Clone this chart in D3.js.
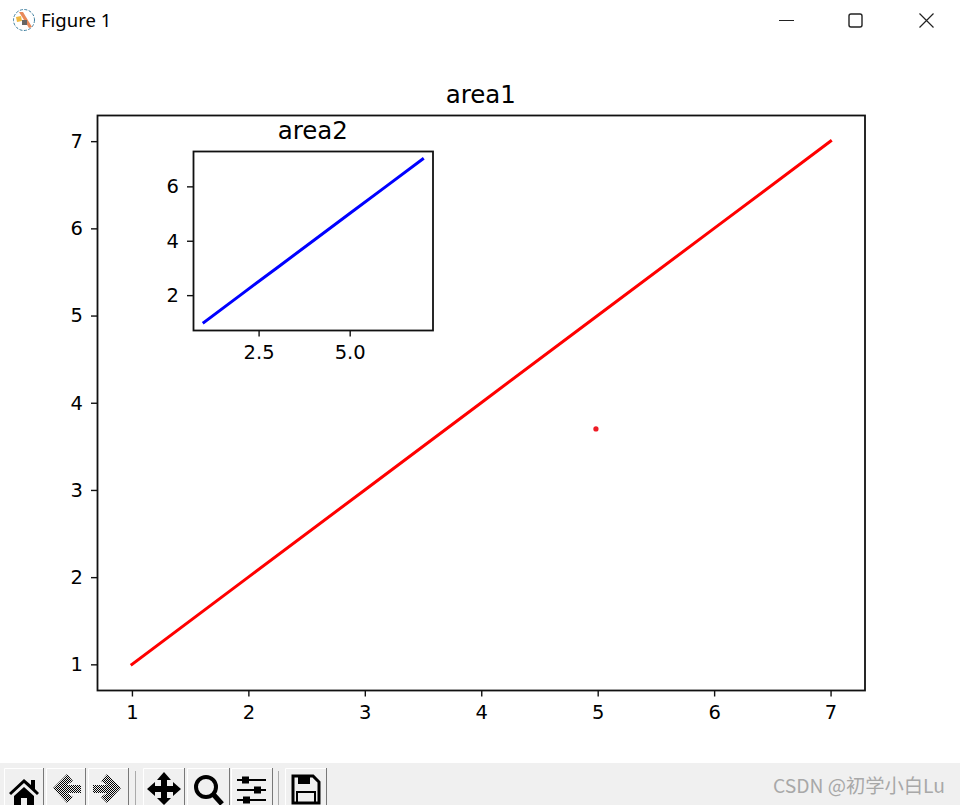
<!DOCTYPE html>
<html><head><meta charset="utf-8">
<script src="https://cdnjs.cloudflare.com/ajax/libs/d3/7.8.5/d3.min.js"></script>
<style>
html,body{margin:0;padding:0;background:#fff;overflow:hidden}
svg{display:block}
text{font-family:"DejaVu Sans",sans-serif;fill:#000}
</style></head><body>
<script>
const lineX = [1,2,3,4,5,6,7];
const lineY = [1,2,3,4,5,6,7];
const dotX = [4.985];
const dotY = [3.70];
const mainTicksX = [1,2,3,4,5,6,7];
const mainTicksY = [1,2,3,4,5,6,7];
const insetTicksX = [2.5,5.0];
const insetTicksY = [2,4,6];
const titleMain = "area1";
const titleInset = "area2";
const windowTitle = "Figure 1";
const watermark = "CSDN @初学小白Lu";

const W=960,H=805;
const svg=d3.select("body").append("svg").attr("width",W).attr("height",H);

function panel(box,dom,tx,ty,fmt,title,color,lw,titleY,fs){
  const x=d3.scaleLinear().domain(dom).range([box.l,box.r]);
  const y=d3.scaleLinear().domain(dom).range([box.b,box.t]);
  const g=svg.append("g");
  g.append("rect").attr("x",box.l).attr("y",box.t).attr("width",box.r-box.l).attr("height",box.b-box.t).attr("fill","#fff");
  const line=d3.line().x(d=>x(d[0])).y(d=>y(d[1]));
  g.append("path").datum(d3.zip(lineX,lineY)).attr("d",line).attr("fill","none").attr("stroke",color).attr("stroke-width",lw).attr("stroke-linecap","square");
  const ax=g.append("g").attr("transform",`translate(0,${box.b})`).call(d3.axisBottom(x).tickValues(tx).tickFormat(fmt).tickSize(6).tickPadding(9));
  const ay=g.append("g").attr("transform",`translate(${box.l},0)`).call(d3.axisLeft(y).tickValues(ty).tickFormat(d3.format("d")).tickSize(6).tickPadding(8));
  [ax,ay].forEach(a=>{
    a.select(".domain").remove();
    a.selectAll("line").attr("stroke","#111").attr("stroke-width",1.4);
    a.selectAll("text").attr("font-size",fs).attr("font-family",'"DejaVu Sans",sans-serif').attr("fill","#000");
  });
  g.append("rect").attr("x",box.l+.5).attr("y",box.t+.5).attr("width",box.r-box.l-1).attr("height",box.b-box.t-.5).attr("fill","none").attr("stroke","#111").attr("stroke-width",1.8);
  g.append("text").attr("x",(box.l+box.r)/2-.5).attr("y",titleY).attr("text-anchor","middle").attr("font-size",24.5).text(title);
  return {x,y,g};
}
const dom=[0.7,7.3];
const m=panel({l:97,r:865.5,t:115,b:690.5},dom,mainTicksX,mainTicksY,d3.format("d"),titleMain,"#ff0000",3,103,19.5);
m.g.selectAll("circle").data(d3.zip(dotX,dotY)).join("circle").attr("cx",d=>m.x(d[0])).attr("cy",d=>m.y(d[1])).attr("r",2.6).attr("fill","#ee1c25");
panel({l:193,r:433.5,t:151,b:330.5},dom,insetTicksX,insetTicksY,d3.format(".1f"),titleInset,"#0000ff",3,139,19.5);

// window chrome
svg.append("text").attr("x",41).attr("y",27).attr("font-size",18.5).style("font-family",'"Noto Sans",sans-serif').text(windowTitle);
const ic=svg.append("g").attr("transform","translate(24,20)");
ic.append("circle").attr("r",10.5).attr("fill","#fff").attr("stroke","#3f7f9f").attr("stroke-width",1).attr("stroke-dasharray","3 1.5");
ic.append("path").attr("d","M-5,-8L-1,-8L8,7L5,8Z").attr("fill","#e8895a");
ic.append("path").attr("d","M-8,-3L-3,-4L-2,1L-7,2Z").attr("fill","#f0b840");
ic.append("path").attr("d","M-2,0L3,0L3,5L-2,5Z").attr("fill","#666");
svg.append("path").attr("d","M779,20.5H794").attr("stroke","#222").attr("stroke-width",1).attr("fill","none");
svg.append("rect").attr("x",849).attr("y",14).attr("width",13).attr("height",13).attr("rx",2).attr("fill","none").attr("stroke","#222").attr("stroke-width",1.4);
svg.append("path").attr("d","M919.5,13.5L933.5,27.5M933.5,13.5L919.5,27.5").attr("stroke","#222").attr("stroke-width",1.2).attr("fill","none");

// toolbar
const tb=svg.append("g");
tb.append("rect").attr("x",0).attr("y",763).attr("width",W).attr("height",42).attr("fill","#f0f0f0");
[[4,43],[46,85],[88,128],[143,184],[187,229],[231,272],[285,326]].forEach(b=>{
  tb.append("path").attr("d",`M${b[0]+.5},805V768.5H${b[1]}`).attr("stroke","#fff").attr("fill","none");
  tb.append("path").attr("d",`M${b[1]+.5},768V805`).attr("stroke","#777").attr("fill","none");
});
[135,278].forEach(v=>tb.append("path").attr("d",`M${v+.5},771V805`).attr("stroke","#aaa").attr("fill","none"));
// home
tb.append("path").attr("d","M9,793L24,779L31,785V780H35V789L39,793L37,795L24,783L11,795ZM14,796L24,787L34,796V805H27V798H21V805H14Z").attr("fill","#000");
// back / forward (dithered look)
const pat=svg.append("defs").append("pattern").attr("id","dith").attr("width",2).attr("height",2).attr("patternUnits","userSpaceOnUse");
pat.append("rect").attr("width",2).attr("height",2).attr("fill","#eee");
pat.append("rect").attr("width",1).attr("height",1).attr("fill","#000");
pat.append("rect").attr("x",1).attr("y",1).attr("width",1).attr("height",1).attr("fill","#000");
tb.append("path").attr("d","M53,788L67,774L73,781L67,785H81V793H67L73,797L67,803Z").attr("fill","url(#dith)");
tb.append("path").attr("d","M121,788L107,774L101,781L107,785H93V793H107L101,797L107,803Z").attr("fill","url(#dith)");
// move
tb.append("path").attr("d","M164,772L171,780H167V786H173V782L181,789L173,796V792H167V798H171L164,805L157,798H161V792H155V796L147,789L155,782V786H161V780H157Z").attr("fill","#000");
// zoom
tb.append("circle").attr("cx",206).attr("cy",787).attr("r",10).attr("fill","none").attr("stroke","#000").attr("stroke-width",4);
tb.append("path").attr("d","M213,794L222,804").attr("stroke","#000").attr("stroke-width",5).attr("fill","none");
// sliders
[[780,245],[790,257],[800,246]].forEach(s=>{
  tb.append("path").attr("d",`M237,${s[0]}H266`).attr("stroke","#000").attr("stroke-width",2);
  tb.append("rect").attr("x",s[1]-3).attr("y",s[0]-3.5).attr("width",7).attr("height",7).attr("fill","#000");
});
// save
tb.append("path").attr("d","M293,776H313L319,782V803H293Z").attr("fill","none").attr("stroke","#000").attr("stroke-width",3);
tb.append("rect").attr("x",298).attr("y",776).attr("width",12).attr("height",8).attr("fill","#000");
tb.append("rect").attr("x",297).attr("y",792).attr("width",18).attr("height",11).attr("fill","none").attr("stroke","#000").attr("stroke-width",2);

svg.append("text").attr("x",945).attr("y",793).attr("text-anchor","end").attr("font-size",19.3).style("font-family",'"Noto Sans CJK SC",sans-serif').style("fill","#a8a8a8").text(watermark);
</script>
</body></html>
